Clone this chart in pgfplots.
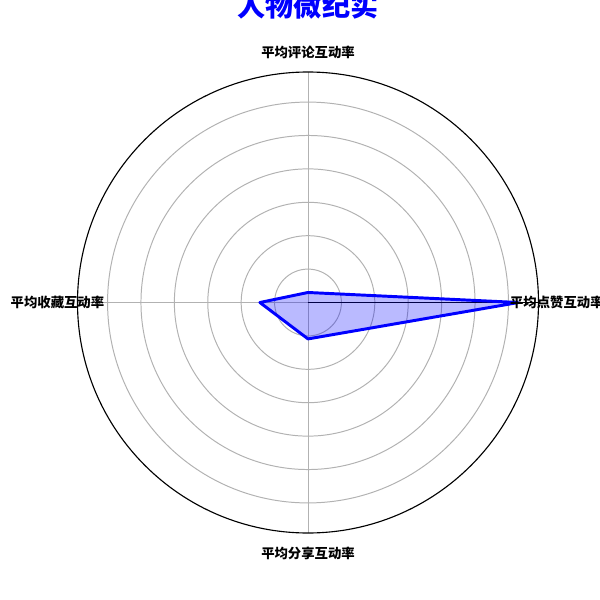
\documentclass[border=0pt]{standalone}
\usepackage{fontspec}
\setmainfont{Noto Sans CJK SC}
\usepackage{pgfplots}
\pgfplotsset{compat=1.18}
\usepgfplotslibrary{polar}
\begin{document}
\begin{tikzpicture}
\useasboundingbox (0,0) rectangle (15cm,15cm);
\begin{polaraxis}[
  at={(7.7cm,7.4375cm)}, anchor=center,
  scale only axis, width=11.525cm, height=11.525cm,
  ymin=0, ymax=6.9,
  xtick={0,90,180,270}, xticklabels={},
  ytick={1,2,3,4,5,6}, yticklabels={},
  major tick length=0pt,
  grid=major,
  major grid style={gray!60, line width=0.7pt},
  axis line style={black, line width=0.8pt},
  clip=false,
]
\addplot[blue, line width=2.1pt, fill=blue, fill opacity=0.27, line join=round]
  coordinates {(0,6.3) (90,0.3) (180,1.44) (270,1.09) (0,6.3)};
\node[font=\fontsize{9.5}{11}\selectfont\bfseries, inner sep=0pt] at (axis cs:0,7.45) {平均点赞互动率};
\node[font=\fontsize{9.5}{11}\selectfont\bfseries, inner sep=0pt] at (axis cs:90,7.5) {平均评论互动率};
\node[font=\fontsize{9.5}{11}\selectfont\bfseries, inner sep=0pt] at (axis cs:180,7.5) {平均收藏互动率};
\node[font=\fontsize{9.5}{11}\selectfont\bfseries, inner sep=0pt] at (axis cs:270,7.5) {平均分享互动率};
\end{polaraxis}
\node[font=\fontsize{20}{24}\selectfont\bfseries, text=blue, inner sep=0pt] at (7.7cm,14.86cm) {人物微纪实};
\end{tikzpicture}
\end{document}
